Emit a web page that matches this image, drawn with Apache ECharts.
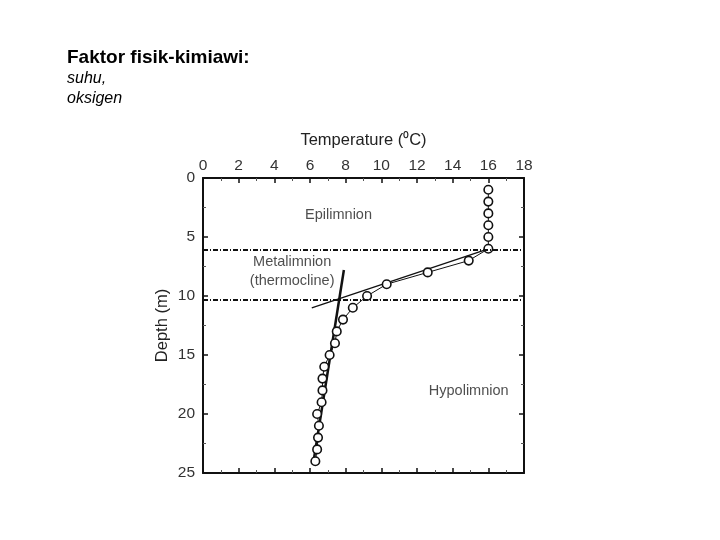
<!DOCTYPE html>
<html>
<head>
<meta charset="utf-8">
<script src="https://cdn.jsdelivr.net/npm/echarts@6/dist/echarts.min.js"></script>
<style>
  html, body { margin: 0; padding: 0; background: #fff; }
  #main { width: 720px; height: 540px; }
</style>
</head>
<body>
<div id="main"></div>
<script>
// observed temperature profile
const depths = [1, 2, 3, 4, 5, 6, 7, 8, 9, 10, 11, 12, 13, 14, 15, 16, 17, 18, 19, 20, 21, 22, 23, 24];
const temps = [16, 16, 16, 16, 16, 16, 14.9, 12.6, 10.3, 9.2, 8.4, 7.85, 7.5, 7.4, 7.1, 6.8, 6.7, 6.7, 6.65, 6.4, 6.5, 6.45, 6.4, 6.3];

// fitted lines [temp, depth]
const thermoFit = [[6.1, 11.0], [16, 6]];
const hypoFit = [[7.9, 7.8], [6.2, 24]];

// layer boundaries (depth)
const boundaries = [6.1, 10.35];

// layer labels [temp, depth, text]
const layerLabels = [
  [7.6, 3.1, "Epilimnion"],
  [5.0, 7.1, "Metalimnion"],
  [5.0, 8.7, "(thermocline)"],
  [14.9, 18.05, "Hypolimnion"],
];

const xTicks = [0, 18, 2];
const yTicks = [0, 25, 5];

const font = "Liberation Sans, Arial, sans-serif";
const black = "#111";

const myChart = echarts.init(document.getElementById("main"));

const tickAxis = (extra) => ({
  axisLine: { show: true, onZero: false, lineStyle: { color: black, width: 2 } },
  axisTick: { show: true, inside: true, length: 5, lineStyle: { color: black, width: 1.5 } },
  minorTick: { show: true, splitNumber: 2, length: 3, lineStyle: { color: "#555", width: 1 } },
  splitLine: { show: false },
  ...extra,
});

myChart.setOption({
  animation: false,
  textStyle: { fontFamily: font },
  graphic: [
    {
      type: "text", left: 67, top: 48,
      style: { text: "Faktor fisik-kimiawi:", font: "bold 19px " + font, fill: "#000" },
    },
    {
      type: "text", left: 67, top: 71,
      style: { text: "suhu,", font: "italic 16px " + font, fill: "#000" },
    },
    {
      type: "text", left: 67, top: 91,
      style: { text: "oksigen", font: "italic 16px " + font, fill: "#000" },
    },
  ],
  grid: { left: 203, top: 178, right: 196, bottom: 67 },
  xAxis: [
    tickAxis({
      type: "value", position: "top",
      min: xTicks[0], max: xTicks[1], interval: xTicks[2],
      name: "Temperature (⁰C)", nameLocation: "middle", nameGap: 29,
      nameTextStyle: { fontSize: 16.5, color: "#222", fontFamily: font },
      axisLabel: { fontSize: 15.5, color: "#333", margin: 4, fontFamily: font },
    }),
    tickAxis({
      type: "value", position: "bottom",
      min: xTicks[0], max: xTicks[1], interval: xTicks[2],
      axisLabel: { show: false },
    }),
  ],
  yAxis: [
    tickAxis({
      type: "value", position: "left", inverse: true,
      min: yTicks[0], max: yTicks[1], interval: yTicks[2],
      name: "Depth (m)", nameLocation: "middle", nameGap: 32,
      nameTextStyle: { fontSize: 16.5, color: "#222", fontFamily: font },
      axisLabel: { fontSize: 15.5, color: "#333", margin: 8, fontFamily: font },
    }),
    tickAxis({
      type: "value", position: "right", inverse: true,
      min: yTicks[0], max: yTicks[1], interval: yTicks[2],
      axisLabel: { show: false },
    }),
  ],
  series: [
    {
      name: "boundaries",
      type: "line",
      data: [],
      markLine: {
        silent: true,
        symbol: "none",
        label: { show: false },
        lineStyle: { color: black, width: 2, type: [5, 2, 1, 2] },
        data: boundaries.map((d) => ({ yAxis: d })),
      },
    },
    {
      name: "thermocline fit",
      type: "line",
      showSymbol: false,
      lineStyle: { color: black, width: 1.3 },
      data: thermoFit,
      z: 3,
    },
    {
      name: "hypolimnion fit",
      type: "line",
      showSymbol: false,
      lineStyle: { color: black, width: 2.5 },
      data: hypoFit,
      z: 3,
    },
    {
      name: "observed",
      type: "line",
      symbol: "circle",
      symbolSize: 8.5,
      itemStyle: { color: "#fff", borderColor: black, borderWidth: 1.6 },
      lineStyle: { color: black, width: 1 },
      data: depths.map((d, i) => [temps[i], d]),
      z: 4,
    },
    {
      name: "labels",
      type: "scatter",
      symbolSize: 0,
      data: layerLabels.map((l) => ({ value: [l[0], l[1]], name: l[2] })),
      label: {
        show: true,
        position: "inside",
        formatter: (p) => p.name,
        fontSize: 14.5,
        color: "#222",
        fontFamily: font,
      },
      z: 5,
    },
  ],
});
</script>
</body>
</html>
